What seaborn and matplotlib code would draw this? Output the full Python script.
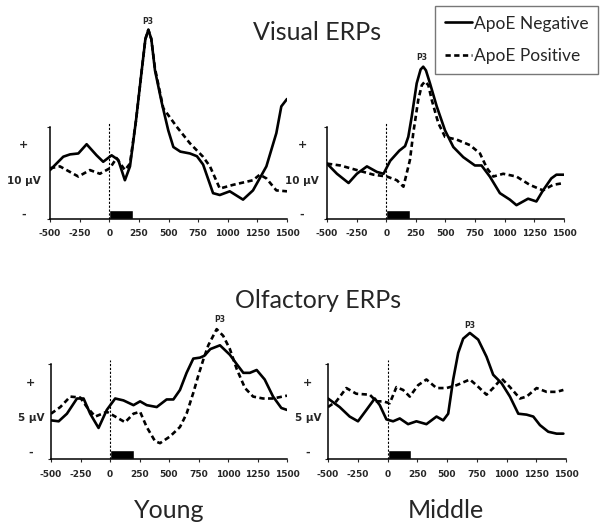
import pandas as pd
import numpy as np
import matplotlib
matplotlib.use("Agg")
import matplotlib.pyplot as plt
import seaborn as sns

# time (ms) / amplitude (arbitrary units, axis spine spans 0..10)
# Visual, Young
vy_neg_t = [-500, -388, -331, -261, -191, -107, -51, 20, 76, 132, 175, 226, 274, 305, 330, 355, 386,
            443, 498, 541, 600, 681, 740, 792, 876, 933, 1017, 1129, 1213, 1326, 1410, 1452, 1500]
vy_neg_v = [5.3, 6.75, 7.0, 7.1, 8.1, 6.9, 6.2, 6.9, 6.4, 4.2, 5.7, 10.7, 16.1, 19.5, 20.5, 19.5, 16.1,
            12.6, 9.6, 7.8, 7.3, 7.1, 6.8, 5.9, 2.8, 2.6, 3.0, 2.1, 3.1, 5.7, 9.3, 12.2, 13.0]
vy_pos_t = [-500, -416, -261, -163, -79, 5, 62, 132, 175, 226, 274, 305, 330, 355, 386, 456, 569,
            681, 791, 850, 933, 1045, 1213, 1270, 1326, 1410, 1500]
vy_pos_v = [5.5, 5.7, 4.6, 5.3, 4.9, 5.5, 6.6, 5.3, 6.0, 10.7, 16.1, 19.5, 20.5, 19.5, 16.3, 12.0, 10.0,
            8.2, 6.75, 5.7, 3.3, 3.7, 4.2, 4.8, 4.4, 3.1, 3.0]
# Visual, Middle
vm_neg_t = [-500, -416, -318, -248, -163, -79, -23, 33, 110, 159, 186, 215, 257, 290, 312, 335, 369,
            426, 496, 566, 650, 748, 804, 874, 959, 1043, 1099, 1155, 1197, 1267, 1323, 1393, 1436, 1500]
vm_neg_v = [6.0, 4.9, 3.9, 4.9, 5.7, 5.1, 4.9, 6.3, 7.4, 7.9, 8.9, 11.1, 14.7, 16.2, 16.5, 16.1, 14.7,
            12.2, 9.6, 7.8, 6.7, 5.8, 5.8, 4.6, 2.8, 2.1, 1.5, 1.9, 2.2, 1.9, 3.1, 4.4, 4.8, 4.8]
vm_pos_t = [-500, -388, -248, -107, 5, 89, 145, 200, 228, 270, 300, 327, 355, 384, 439, 496, 595,
            707, 791, 850, 903, 987, 1099, 1211, 1323, 1407, 1500]
vm_pos_v = [6.0, 5.8, 5.3, 4.8, 4.6, 4.2, 3.5, 6.4, 9.3, 12.9, 14.5, 14.9, 14.5, 12.9, 10.4, 8.9, 8.6,
            8.0, 7.1, 5.5, 4.6, 4.9, 4.6, 3.7, 3.1, 3.7, 3.9]
# Olfactory, Young
oy_neg_t = [-500, -435, -365, -280, -224, -168, -97, -27, 44, 114, 199, 255, 311, 396, 480, 537, 593,
            649, 706, 762, 800, 850, 932, 1016, 1075, 1130, 1185, 1243, 1311, 1382, 1452, 1500]
oy_neg_v = [4.1, 4.0, 4.8, 6.4, 6.4, 4.8, 3.3, 5.2, 6.4, 6.2, 5.7, 6.1, 5.7, 5.5, 6.3, 6.3, 7.3,
            9.1, 10.6, 10.7, 10.9, 11.6, 12.0, 11.0, 10.0, 9.1, 9.1, 9.4, 8.4, 6.6, 5.4, 5.2]
oy_pos_t = [-500, -421, -337, -252, -196, -125, -27, 44, 128, 199, 255, 311, 382, 424, 508, 593, 649,
            706, 748, 791, 833, 904, 959, 1016, 1074, 1144, 1213, 1297, 1382, 1500]
oy_pos_v = [4.8, 5.5, 6.6, 6.5, 5.5, 4.5, 5.0, 4.5, 3.9, 4.8, 5.0, 3.4, 1.9, 1.7, 2.4, 3.4, 4.8,
            7.0, 8.8, 10.5, 12.0, 13.7, 13.0, 11.6, 9.5, 7.5, 6.6, 6.4, 6.4, 6.7]
# Olfactory, Middle
om_neg_t = [-500, -402, -318, -248, -177, -107, -65, -9, 47, 103, 173, 243, 327, 412, 468, 510, 552,
            594, 636, 692, 762, 832, 888, 959, 1029, 1099, 1169, 1225, 1281, 1351, 1421, 1478]
om_neg_v = [6.4, 5.5, 4.5, 4.0, 5.2, 6.4, 5.7, 4.2, 4.0, 4.3, 3.7, 4.0, 3.7, 4.5, 4.1, 4.8, 8.4,
            11.2, 12.7, 13.3, 12.6, 10.8, 8.9, 8.0, 6.6, 4.8, 4.7, 4.5, 3.6, 2.9, 2.7, 2.7]
om_pos_t = [-500, -430, -346, -262, -149, -93, -37, 19, 75, 131, 187, 257, 327, 412, 496, 580, 692,
            748, 832, 888, 959, 1029, 1113, 1169, 1253, 1337, 1421, 1478]
om_pos_v = [5.5, 6.1, 7.5, 6.9, 6.8, 6.1, 6.1, 5.9, 7.6, 7.3, 6.6, 7.8, 8.4, 7.5, 7.5, 7.8, 8.4,
            7.8, 6.8, 7.5, 8.5, 7.6, 6.4, 6.6, 7.5, 7.1, 7.1, 7.3]

x_ticks = [-500, -250, 0, 250, 500, 750, 1000, 1250, 1500]
groups = ["ApoE Negative", "ApoE Positive"]
scale_labels = ["10 µV", "10 µV", "5 µV", "5 µV"]
stim_end = 200

sns.set_style("ticks")
plt.rcParams["font.family"] = ["DejaVu Sans"]

W, H = 602, 529
fig = plt.figure(figsize=(W / 100, H / 100), dpi=100)


def make_ax(x0, x1, y0, ppu, ymax):
    # pixel box -> figure fraction; y0 = pixel row of value 0
    h = ppu * ymax
    return fig.add_axes([x0 / W, (H - y0) / H, (x1 - x0) / W, h / H])


axes = [
    make_ax(50, 287, 219, 9.23, 22),
    make_ax(327, 564, 219, 9.23, 22),
    make_ax(51, 287, 459.3, 9.5, 15),
    make_ax(328, 566, 459.3, 9.5, 15),
]
ymaxes = [22, 22, 15, 15]
series = [
    (vy_neg_t, vy_neg_v, vy_pos_t, vy_pos_v),
    (vm_neg_t, vm_neg_v, vm_pos_t, vm_pos_v),
    (oy_neg_t, oy_neg_v, oy_pos_t, oy_pos_v),
    (om_neg_t, om_neg_v, om_pos_t, om_pos_v),
]
# P3 label positions (ms, value)
p3_pos = [(327, 21.4), (302, 17.5), (932, 14.7), (693, 14.1)]
lab_x = [-0.112, -0.105, -0.085, -0.085]
lab_y = [(8.0, 4.1, 0.5), (8.0, 4.1, 0.5), (8.0, 4.35, 0.66), (8.0, 4.35, 0.66)]

for i, ax in enumerate(axes):
    nt, nv, pt, pv = series[i]
    df = pd.DataFrame({
        "ms": nt + pt,
        "uv": nv + pv,
        "group": [groups[0]] * len(nt) + [groups[1]] * len(pt),
    })
    sns.lineplot(data=df, x="ms", y="uv", hue="group", style="group",
                 palette={groups[0]: "black", groups[1]: "black"},
                 dashes={groups[0]: "", groups[1]: (2.0, 1.3)},
                 estimator=None, sort=False, linewidth=1.9, legend=(i == 1), ax=ax)
    for ln in ax.get_lines():
        ln.set_solid_joinstyle("round")
        ln.set_dash_joinstyle("round")
    ax.set_xlim(-500, 1500)
    ax.set_ylim(0, ymaxes[i])
    ax.set_xlabel("")
    ax.set_ylabel("")
    sns.despine(ax=ax)
    ax.spines["left"].set_bounds(0, 10)
    for s in ["left", "bottom"]:
        ax.spines[s].set_linewidth(1.1)
        ax.spines[s].set_color("black")
    ax.set_xticks(x_ticks)
    ax.set_xticklabels([str(t) for t in x_ticks], fontsize=6.5, fontweight="bold")
    ax.tick_params(axis="x", length=2.5, width=0.8, pad=5)
    ax.set_yticks([0, 10])
    ax.set_yticklabels([])
    ax.tick_params(axis="y", length=2.5, width=0.8)
    # stimulus onset + stimulus bar
    ax.plot([0, 0], [0, 10.5], color="black", lw=0.8, ls=(0, (2, 1.5)))
    ax.bar(0, 1.0, width=stim_end, align="edge", color="black")
    ax.text(p3_pos[i][0], p3_pos[i][1], "P3", fontsize=5.5, fontweight="bold",
            ha="center", va="center", clip_on=False)
    tr = ax.get_yaxis_transform()
    ly = lab_y[i]
    ax.text(lab_x[i], ly[0], "+", transform=tr, ha="center", va="center",
            fontsize=8, fontweight="bold")
    ax.text(lab_x[i], ly[1], scale_labels[i], transform=tr, ha="center", va="center",
            fontsize=7.5, fontweight="bold")
    ax.text(lab_x[i], ly[2], "-", transform=tr, ha="center", va="center",
            fontsize=8, fontweight="bold")

handles, labels = axes[1].get_legend_handles_labels()
axes[1].get_legend().remove()
leg = fig.legend(handles, labels, loc="upper left", bbox_to_anchor=(435 / W, 1 - 6 / H),
                 prop={"family": "Lato", "size": 12.5}, frameon=True, fancybox=False,
                 edgecolor="#555555", handlelength=1.6, handletextpad=0.1,
                 labelspacing=0.95, borderpad=0.55, borderaxespad=0)
leg.get_frame().set_linewidth(1.0)

fig.text(317 / W, 1 - 33 / H, "Visual ERPs", family="Lato", fontsize=18,
         ha="center", va="center")
fig.text(318 / W, 1 - 301 / H, "Olfactory ERPs", family="Lato", fontsize=18,
         ha="center", va="center")
fig.text(169 / W, 1 - 510 / H, "Young", family="Lato", fontsize=18, ha="center", va="center")
fig.text(446 / W, 1 - 510 / H, "Middle", family="Lato", fontsize=18, ha="center", va="center")

fig.savefig("out.png", dpi=100)
